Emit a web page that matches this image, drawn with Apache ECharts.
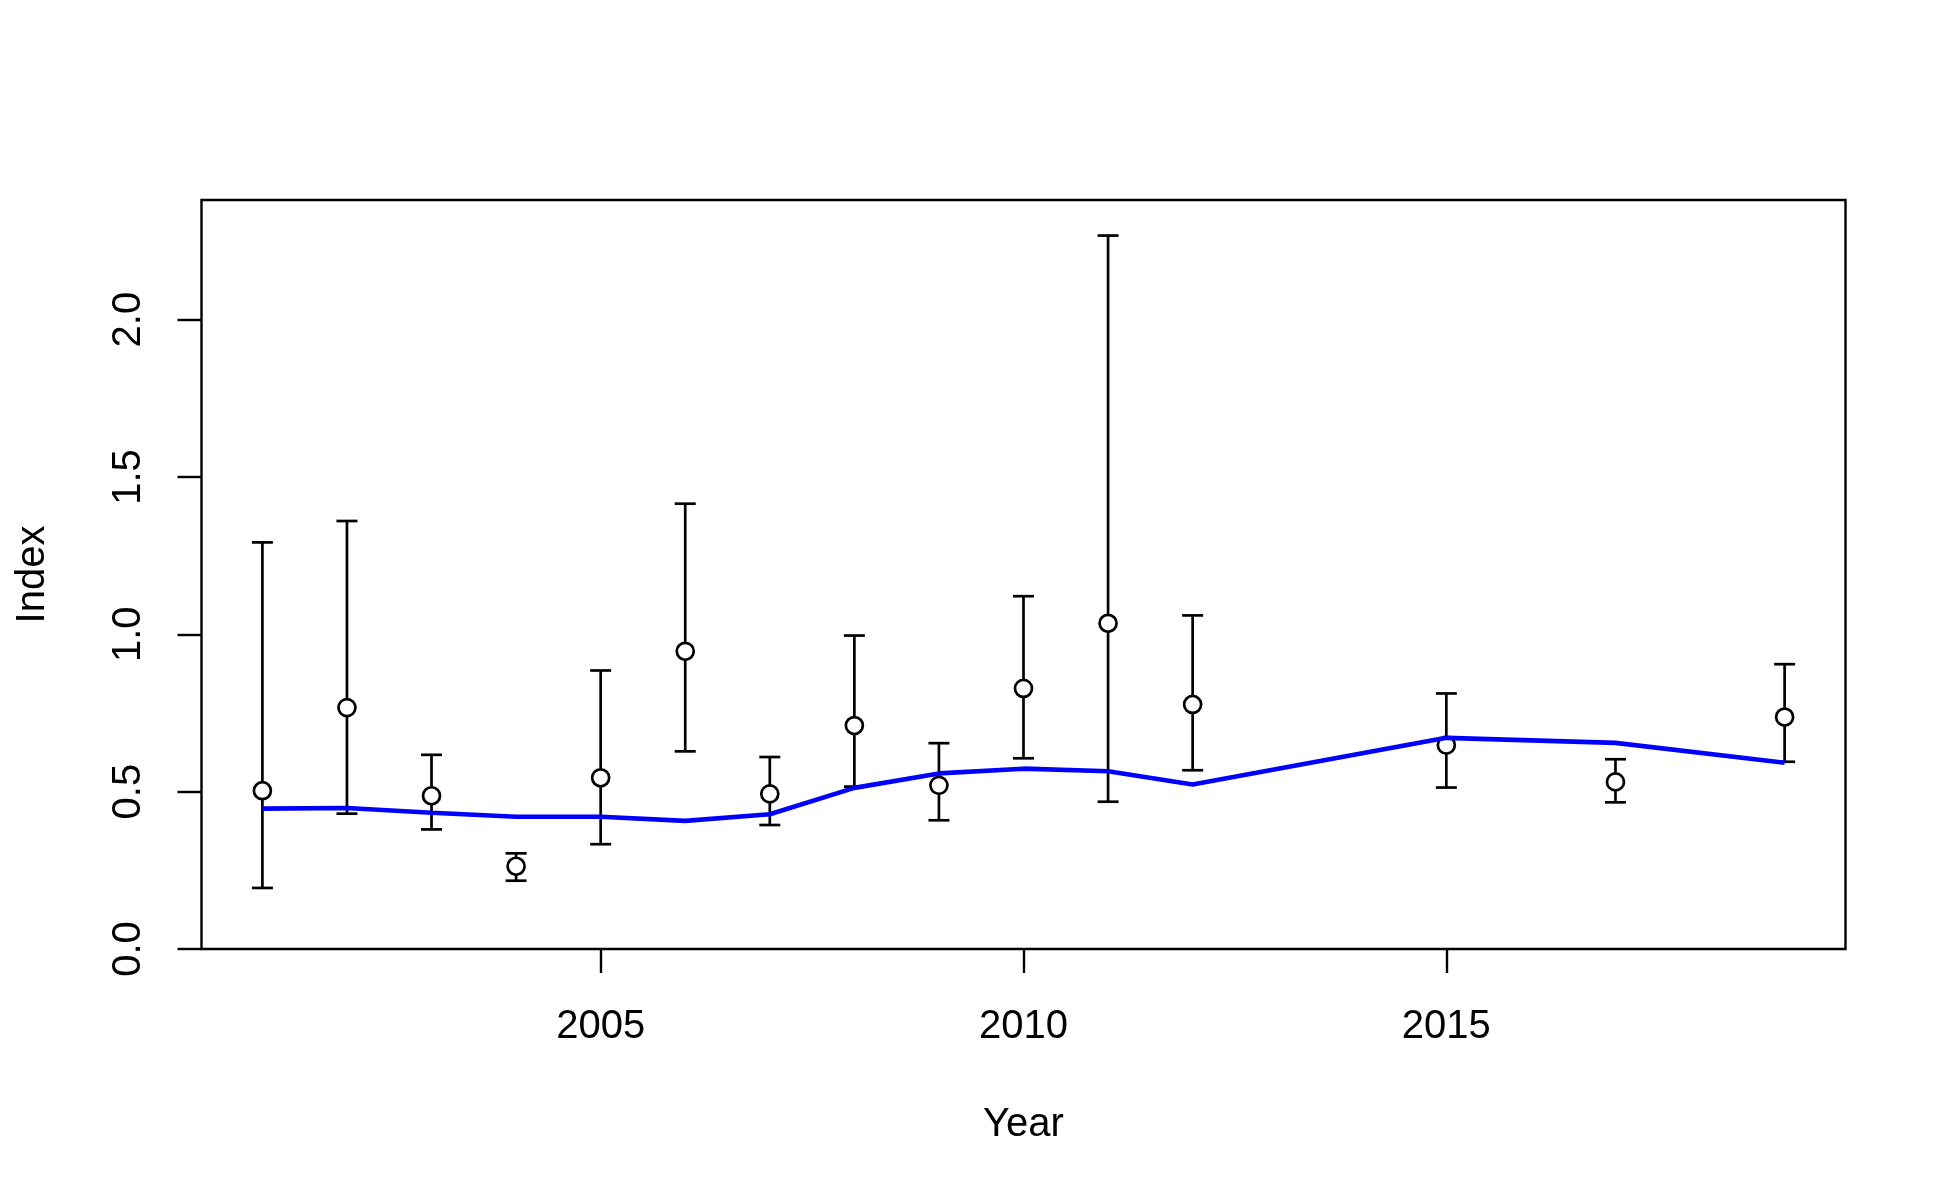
<!DOCTYPE html>
<html>
<head>
<meta charset="utf-8">
<script src="https://cdn.jsdelivr.net/npm/echarts@6/dist/echarts.min.js"></script>
<style>
html,body{margin:0;padding:0;background:#fff;}
#chart{width:1950px;height:1200px;}
</style>
</head>
<body>
<div id="chart"></div>
<script>
// Data
var years = [2001, 2002, 2003, 2004, 2005, 2006, 2007, 2008, 2009, 2010, 2011, 2012, 2015, 2017, 2019];
var observed = [0.503, 0.767, 0.487, 0.263, 0.544, 0.946, 0.493, 0.710, 0.520, 0.828, 1.035, 0.777, 0.648, 0.531, 0.737];
var upperCI = [1.292, 1.360, 0.617, 0.304, 0.885, 1.415, 0.610, 0.996, 0.654, 1.121, 2.267, 1.060, 0.812, 0.603, 0.905];
var lowerCI = [0.194, 0.430, 0.380, 0.217, 0.333, 0.628, 0.394, 0.516, 0.409, 0.606, 0.468, 0.568, 0.513, 0.466, 0.595];
var fitted = [0.446, 0.448, 0.433, 0.420, 0.420, 0.407, 0.428, 0.512, 0.558, 0.573, 0.565, 0.523, 0.671, 0.655, 0.592];
var xTicks = [2005, 2010, 2015];
var yTicks = [0.0, 0.5, 1.0, 1.5, 2.0];

var FONT = '"Liberation Sans", Arial, Helvetica, sans-serif';

var errData = years.map(function (y, i) { return [y, lowerCI[i], upperCI[i]]; });
var ptData = years.map(function (y, i) { return [y, observed[i]]; });
var fitData = years.map(function (y, i) { return [y, fitted[i]]; });

var chart = echarts.init(document.getElementById('chart'), null, {renderer: 'canvas'});
chart.setOption({
  animation: false,
  backgroundColor: '#ffffff',
  grid: {
    left: 201.5, right: 104.5, top: 200, bottom: 251,
    show: true, borderColor: '#000', borderWidth: 2.4, backgroundColor: 'transparent'
  },
  xAxis: {
    type: 'value',
    min: 2000.28, max: 2019.72,
    name: 'Year',
    nameLocation: 'middle',
    nameGap: 156,
    nameTextStyle: {fontFamily: FONT, fontSize: 40, color: '#000'},
    axisLine: {show: false},
    splitLine: {show: false},
    axisTick: {show: true, length: 24, inside: false, customValues: xTicks, lineStyle: {color: '#000', width: 2.4}},
    axisLabel: {show: true, customValues: xTicks, margin: 58, fontFamily: FONT, fontSize: 40, color: '#000',
      formatter: function (v) { return String(Math.round(v)); }}
  },
  yAxis: {
    type: 'value',
    min: 0, max: 2.38,
    name: 'Index',
    nameLocation: 'middle',
    nameGap: 149,
    nameTextStyle: {fontFamily: FONT, fontSize: 40, color: '#000'},
    axisLine: {show: false},
    splitLine: {show: false},
    axisTick: {show: true, length: 24, inside: false, customValues: yTicks, lineStyle: {color: '#000', width: 2.4}},
    axisLabel: {show: true, customValues: yTicks, rotate: 90, margin: 53, fontFamily: FONT, fontSize: 40, color: '#000',
      formatter: function (v) { return v.toFixed(1); }}
  },
  series: [
    {
      type: 'custom',
      z: 2,
      data: errData,
      encode: {x: 0, y: [1, 2]},
      renderItem: function (params, api) {
        var x = api.value(0);
        var lo = api.coord([x, api.value(1)]);
        var hi = api.coord([x, api.value(2)]);
        var hw = 10.5;
        var style = {stroke: '#000', lineWidth: 2.7, fill: null};
        return {
          type: 'group',
          children: [
            {type: 'line', shape: {x1: lo[0], y1: lo[1], x2: hi[0], y2: hi[1]}, style: style},
            {type: 'line', shape: {x1: lo[0] - hw, y1: lo[1], x2: lo[0] + hw, y2: lo[1]}, style: style},
            {type: 'line', shape: {x1: hi[0] - hw, y1: hi[1], x2: hi[0] + hw, y2: hi[1]}, style: style}
          ]
        };
      }
    },
    {
      type: 'scatter',
      z: 3,
      data: ptData,
      symbol: 'circle',
      symbolSize: 17,
      itemStyle: {color: '#ffffff', borderColor: '#000', borderWidth: 2.7, opacity: 1}
    },
    {
      type: 'line',
      z: 4,
      data: fitData,
      showSymbol: false,
      symbol: 'none',
      lineStyle: {color: '#0000ff', width: 4.6},
      itemStyle: {color: '#0000ff'}
    }
  ]
});
</script>
</body>
</html>
